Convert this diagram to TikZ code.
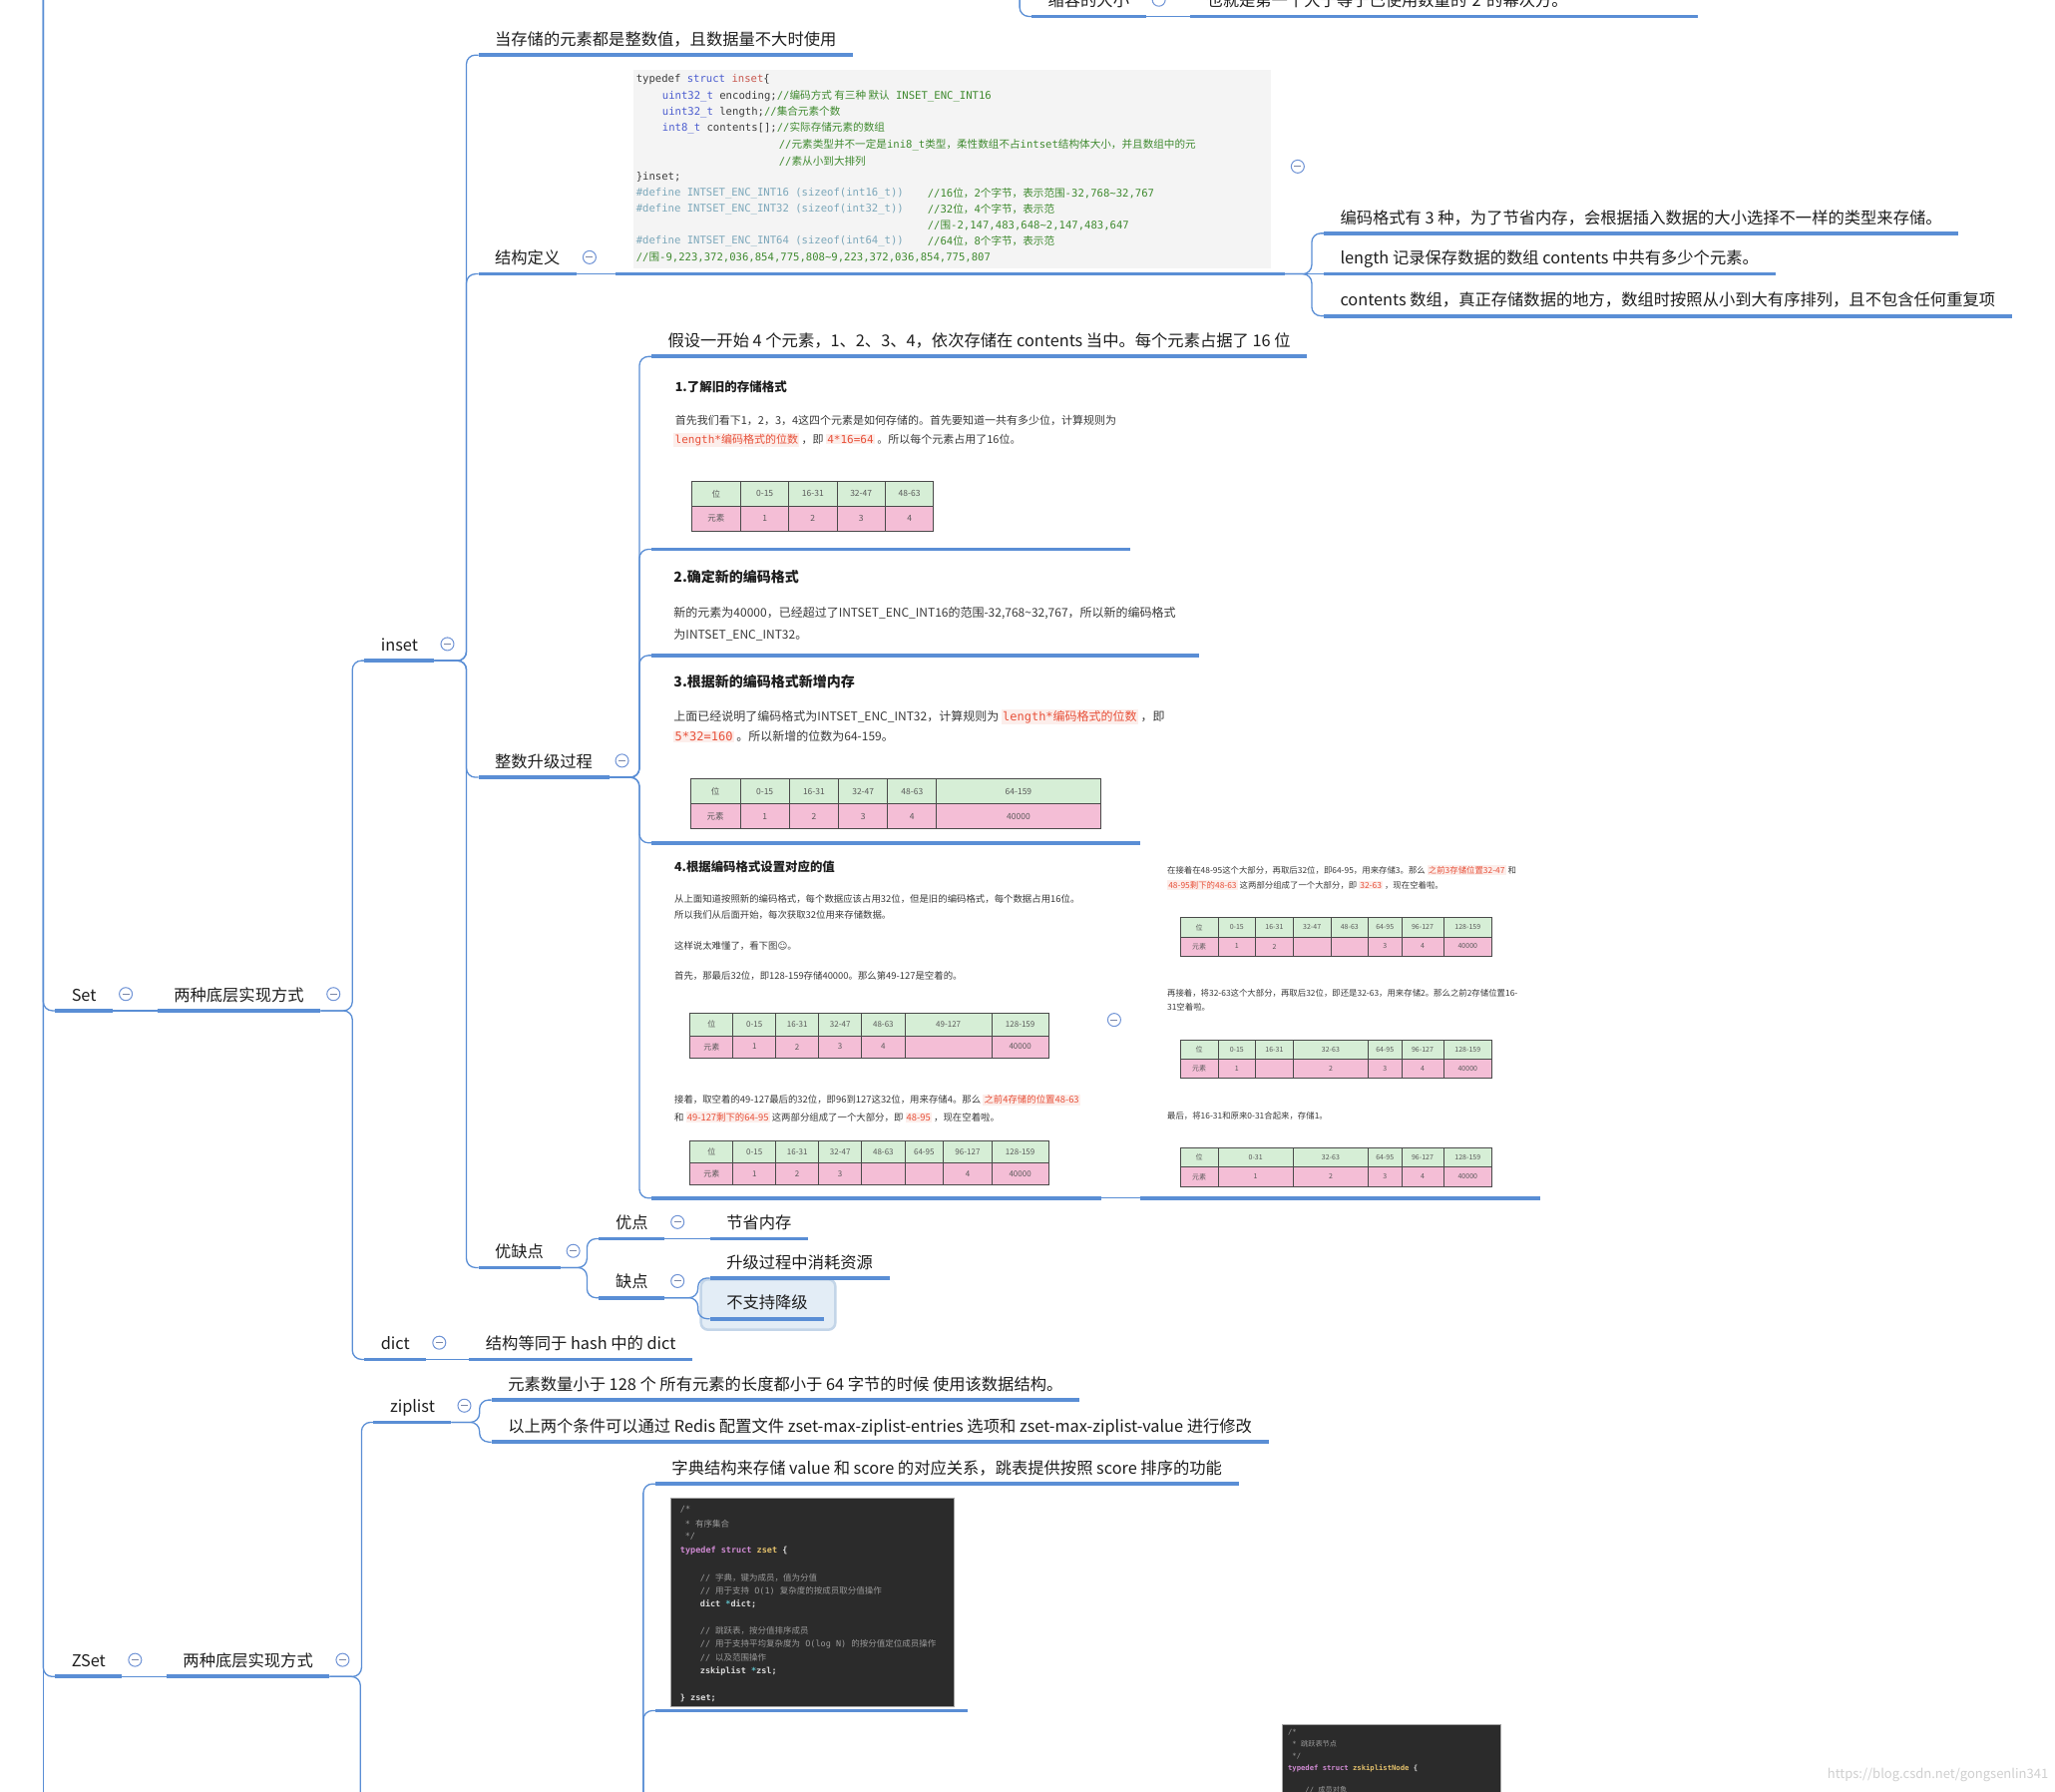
\documentclass[tikz,border=0pt]{standalone}
\usepackage{fontspec}
\setmainfont{Noto Sans CJK SC}
\setmonofont{DejaVu Sans Mono}
\newfontfamily\symfont{DejaVu Sans}
\usetikzlibrary{positioning,backgrounds,fit}
\definecolor{xblue}{HTML}{5A8ED5}
\definecolor{foldblue}{HTML}{6F93D6}
\definecolor{foldgray}{HTML}{7A86A6}
\definecolor{ink}{HTML}{1E1E1E}
\definecolor{txtgray}{HTML}{3A3A3A}
\definecolor{codebg}{HTML}{F4F4F4}
\definecolor{codeink}{HTML}{3C3C3C}
\definecolor{kwblue}{HTML}{4A5CCF}
\definecolor{kwred}{HTML}{C8584F}
\definecolor{cmgreen}{HTML}{3F8A2F}
\definecolor{dfteal}{HTML}{7BA7BA}
\definecolor{redcode}{HTML}{E8513A}
\definecolor{redbg}{HTML}{FCEEEB}
\definecolor{bitgreen}{HTML}{D6EED6}
\definecolor{bitpink}{HTML}{F4BED6}
\definecolor{rulegray}{HTML}{4A4A4A}
\definecolor{celltxt}{HTML}{5A5A5A}
\definecolor{darkbg}{HTML}{2B2B2B}
\definecolor{darktxt}{HTML}{DADADA}
\definecolor{darkcm}{HTML}{9A9A9A}
\definecolor{darkkw}{HTML}{CF8AD2}
\definecolor{darkname}{HTML}{E3C06B}
\definecolor{darkstar}{HTML}{5FC0C8}
\definecolor{selfill}{HTML}{E3EDF6}
\definecolor{selline}{HTML}{C3D5E8}
\definecolor{wmgray}{HTML}{CFCFCF}

\newcommand{\zh}[1]{{\rmfamily#1}}
\newcommand{\ckw}[1]{\textcolor{kwblue}{#1}}
\newcommand{\cnm}[1]{\textcolor{kwred}{#1}}
\newcommand{\ccm}[1]{\textcolor{cmgreen}{#1}}
\newcommand{\cdf}[1]{\textcolor{dfteal}{#1}}
\newcommand{\rc}[1]{{\setlength{\fboxsep}{1.2pt}\colorbox{redbg}{\textcolor{redcode}{#1}}}}
% 位表：字号、名字、上/中/下 y、各列
\newcommand{\bittab}[6]{%
  \foreach \ca/\cb/\ctop/\cbot [count=\k] in {#6}{
    \fill[bitgreen] (\ca,#3) rectangle (\cb,#4);
    \fill[bitpink] (\ca,#4) rectangle (\cb,#5);
    \node[bitcell, font=\fontsize{#1}{#1}\selectfont] (#2g\k) at ({(\ca+\cb)/2},{(#3+#4)/2}) {\ctop};
    \node[bitcell, font=\fontsize{#1}{#1}\selectfont] (#2p\k) at ({(\ca+\cb)/2},{(#4+#5)/2}) {\cbot};
    \draw[cellrule] (\ca,#3) rectangle (\cb,#5) (\ca,#4) -- (\cb,#4);
  }}

\begin{document}
\begin{tikzpicture}[x=1.3138pt, y=-1.3138pt,
    topic/.style={anchor=south west, inner xsep=16.4pt, inner ysep=6pt, text height=12.5pt, text depth=3.5pt,
      text=ink, font=\fontsize{16.3}{19}\selectfont,
      append after command={(\tikzlastnode.south west) edge[uline] (\tikzlastnode.south east)}}, % 下划线主题
    uline/.style={draw=xblue, line width=3.8pt},
    conn/.style={draw=xblue, line width=1.3pt, rounded corners=9pt},
    fold/.style={circle, draw=foldblue, line width=1pt, fill=white, minimum size=13pt, inner sep=0pt,
      path picture={\draw[foldgray, line width=1pt] ([xshift=-3.5pt]path picture bounding box.center) -- ([xshift=3.5pt]path picture bounding box.center);}},
    shot/.style 2 args={topic, minimum width=#1, minimum height=#2}, % 图片节点
    selbox/.style={draw=selline, line width=2.5pt, fill=selfill, rounded corners=7pt, inner xsep=10pt, inner ysep=11pt},
    stephead/.style={anchor=west, inner sep=0pt, text=ink, font=\bfseries\fontsize{12.5}{14}\selectfont},
    steptext/.style={anchor=west, inner sep=0pt, text=txtgray, font=\fontsize{11}{13}\selectfont},
    codeline/.style={anchor=west, inner sep=0pt, text=codeink, font=\ttfamily\fontsize{10.6}{12}\selectfont},
    darkline/.style={anchor=west, inner sep=0pt, text=darktxt, font=\ttfamily\fontsize{8.5}{10}\selectfont},
    bitcell/.style={inner sep=0pt, text=celltxt},
    cellrule/.style={draw=rulegray, line width=0.9pt}
  ]
\useasboundingbox (0,0) rectangle (1568,1367);
\clip (0,0) rectangle (1568,1367);

% 顶部（截断）
\coordinate (shrinkup) at (778,-40);
\node[topic] (shrink) at (787,12.5) {缩容的大小};
\node[topic, text width=476pt, align=left] (shrinkdesc) at (908,12.5) {也就是第一个大于等于已使用数量的 2 的幂次方。};

% Set
\coordinate (roottop) at (33,-60);
\coordinate (rootend) at (33,1430);
\node[topic] (set) at (42,771) {Set};
\node[topic] (setimpl) at (120,771) {两种底层实现方式};
\node[topic] (inset) at (278,504) {inset};
\node[topic] (dict) at (278,1037) {dict};
\node[topic] (insetuse) at (365,42) {当存储的元素都是整数值，且数据量不大时使用};
\node[topic] (insetdef) at (365,209) {结构定义};
\node[shot={670pt}{210pt}] (insetcode) at (470,209) {};
\node[topic] (enc3) at (1010,178) {编码格式有 3 种，为了节省内存，会根据插入数据的大小选择不一样的类型来存储。};
\node[topic] (lenrec) at (1010,209) {length 记录保存数据的数组 contents 中共有多少个元素。};
\node[topic] (contarr) at (1010,241) {contents 数组，真正存储数据的地方，数组时按照从小到大有序排列，且不包含任何重复项};
\node[topic] (upgrade) at (365,593) {整数升级过程};
\node[topic] (assume) at (497,272) {假设一开始 4 个元素，1、2、3、4，依次存储在 contents 当中。每个元素占据了 16 位};
\node[shot={479.5pt}{184pt}] (step1) at (497,419) {};
\node[shot={549pt}{98.5pt}] (step2) at (497,500) {};
\node[shot={490pt}{177pt}] (step3) at (497,643) {};
\node[shot={450.6pt}{352pt}] (step4) at (497,914) {};
\node[shot={400.7pt}{352pt}] (step4b) at (870,914) {};
\node[topic] (proscons) at (365,967) {优缺点};
\node[topic] (pro) at (457,945) {优点};
\node[topic] (saving) at (541.7,945) {节省内存};
\node[topic] (con) at (457,990) {缺点};
\node[topic] (costly) at (541.7,975) {升级过程中消耗资源};
\node[topic] (nodown) at (541.7,1006) {不支持降级};
\node[topic] (dictsame) at (358,1037) {结构等同于 hash 中的 dict};

% ZSet
\node[topic] (zset) at (42,1279) {ZSet};
\node[topic] (zsetimpl) at (127,1279) {两种底层实现方式};
\node[topic] (ziplist) at (285,1085) {ziplist};
\node[topic] (zipcond) at (375,1068) {元素数量小于 128 个 所有元素的长度都小于 64 字节的时候 使用该数据结构。};
\node[topic] (zipconf) at (375,1100) {以上两个条件可以通过 Redis 配置文件 zset-max-ziplist-entries 选项和 zset-max-ziplist-value 进行修改};
\coordinate (skipstub) at (275,1430);
\coordinate (skipend) at (470,1450);
\node[topic] (dictskip) at (500,1132) {字典结构来存储 value 和 score 的对应关系，跳表提供按照 score 排序的功能};
\node[shot={312.7pt}{223pt}] (zsetcode) at (500,1305) {};

\begin{scope}[on background layer]
  \fill[white] (0,0) rectangle (1568,1367);
  \node[selbox, fit=(nodown), xshift=1pt] (nodownsel) {};
\end{scope}

% 连线
\draw[conn] (shrinkup) |- (shrink.south west);
\draw[conn] (roottop) |- (set.south west);
\draw[conn] (roottop) |- (zset.south west);
\draw[conn] (roottop) -- (rootend);
\draw[conn] (zsetimpl.south east) -| (skipstub);
\foreach \cnode in {dictskip, zsetcode}
  \draw[conn] (skipend) -| ([xshift=-12pt]\cnode.south west) -- (\cnode.south west);
\foreach \pnode/\cnode in {setimpl/inset, setimpl/dict, inset/insetuse, inset/insetdef, inset/upgrade, inset/proscons,
    insetcode/enc3, insetcode/contarr, upgrade/assume, upgrade/step1, upgrade/step2, upgrade/step3, upgrade/step4,
    proscons/pro, proscons/con, con/costly, con/nodown, zsetimpl/ziplist, ziplist/zipcond, ziplist/zipconf}
  \draw[conn] (\pnode.south east) -| ([xshift=-12pt]\cnode.south west) -- (\cnode.south west);
\foreach \pnode/\cnode in {set/setimpl, zset/zsetimpl, shrink/shrinkdesc, insetdef/insetcode, insetcode/lenrec,
    step4/step4b, pro/saving, dict/dictsame}
  \draw[conn] (\pnode.south east) -- (\cnode.south west);

% 折叠按钮
\foreach \n in {shrink, set, setimpl, inset, insetdef, insetcode, upgrade, step4, proscons, pro, con, dict, zset, zsetimpl, ziplist}
  \node[fold] (fold-\n) at ([shift={(13pt,2.5pt)}]\n.east) {};

% intset 结构代码
\fill[codebg] (483,53) rectangle (970,205);
\node[codeline] (cl1) at (485.3,60.9) {typedef \ckw{struct} \cnm{inset}\{};
\node[codeline] (cl2) at (505.2,73.6) {\ckw{uint32\_t} encoding;\ccm{//\zh{编码方式 有三种 默认} INSET\_ENC\_INT16}};
\node[codeline] (cl3) at (505.2,85.8) {\ckw{uint32\_t} length;\ccm{//\zh{集合元素个数}}};
\node[codeline] (cl4) at (505.2,97.7) {\ckw{int8\_t} contents[];\ccm{//\zh{实际存储元素的数组}}};
\node[codeline] (cl5) at (594.2,110.4) {\ccm{//\zh{元素类型并不一定是}ini8\_t\zh{类型，柔性数组不占}intset\zh{结构体大小，并且数组中的元}}};
\node[codeline] (cl6) at (594.2,123) {\ccm{//\zh{素从小到大排列}}};
\node[codeline] (cl7) at (485.3,135.3) {\}inset;};
\node[codeline] (cl8) at (485.3,147.1) {\cdf{\#define INTSET\_ENC\_INT16 (sizeof(int16\_t))}};
\node[codeline] (cm8) at (707.6,147.1) {\ccm{//16\zh{位，}2\zh{个字节，表示范围}-32,768\textasciitilde32,767}};
\node[codeline] (cl9) at (485.3,159.8) {\cdf{\#define INTSET\_ENC\_INT32 (sizeof(int32\_t))}};
\node[codeline] (cm9) at (707.6,159.8) {\ccm{//32\zh{位，}4\zh{个字节，表示范}}};
\node[codeline] (cm10) at (707.6,172) {\ccm{//\zh{围}-2,147,483,648\textasciitilde2,147,483,647}};
\node[codeline] (cl11) at (485.3,184) {\cdf{\#define INTSET\_ENC\_INT64 (sizeof(int64\_t))}};
\node[codeline] (cm11) at (707.6,184) {\ccm{//64\zh{位，}8\zh{个字节，表示范}}};
\node[codeline] (cl12) at (485.3,196.1) {\ccm{//\zh{围}-9,223,372,036,854,775,808\textasciitilde9,223,372,036,854,775,807}};

% 1. 旧格式
\node[stephead] (s1h) at (515,295.3) {1.了解旧的存储格式};
\node[steptext] (s1a) at (515,320.7) {首先我们看下1，2，3，4这四个元素是如何存储的。首先要知道一共有多少位，计算规则为};
\node[steptext] (s1b) at (514,335.4) {\rc{\texttt{length*}编码格式的位数} ，即 \rc{\texttt{4*16=64}} 。所以每个元素占用了16位。};
\bittab{8.5}{tA}{367.1}{386.1}{404.9}{527.7/565.3/位/元素, 565.3/601.8/0-15/1, 601.8/638.6/16-31/2, 638.6/675.4/32-47/3, 675.4/712.4/48-63/4}

% 2. 新格式
\node[stephead, font=\bfseries\fontsize{14}{16}\selectfont] (s2h) at (514,440) {2.确定新的编码格式};
\node[steptext, font=\fontsize{12}{14}\selectfont] (s2a) at (514,468) {新的元素为40000，已经超过了INTSET\_ENC\_INT16的范围-32,768\textasciitilde32,767，所以新的编码格式};
\node[steptext, font=\fontsize{12}{14}\selectfont] (s2b) at (514,484) {为INTSET\_ENC\_INT32。};

% 3. 新增内存
\node[stephead, font=\bfseries\fontsize{14}{16}\selectfont] (s3h) at (514,520) {3.根据新的编码格式新增内存};
\node[steptext, font=\fontsize{12}{14}\selectfont] (s3a) at (514,547) {上面已经说明了编码格式为INTSET\_ENC\_INT32，计算规则为 \rc{\texttt{length*}编码格式的位数} ，即};
\node[steptext, font=\fontsize{12}{14}\selectfont] (s3b) at (514,562) {\rc{\texttt{5*32=160}} 。所以新增的位数为64-159。};
\bittab{8.5}{tB}{594}{613.3}{632}{527/564.8/位/元素, 564.8/602.3/0-15/1, 602.3/639.8/16-31/2, 639.8/677.3/32-47/3, 677.3/714.6/48-63/4, 714.6/839.6/64-159/40000}

% 4. 设置值（左）
\node[stephead, font=\bfseries\fontsize{12.4}{14}\selectfont] (s4h) at (514.5,661.5) {4.根据编码格式设置对应的值};
\begin{scope}[steptext/.append style={font=\fontsize{9.4}{11}\selectfont}]
\node[steptext] (s4a) at (514.5,685.5) {从上面知道按照新的编码格式，每个数据应该占用32位，但是旧的编码格式，每个数据占用16位。};
\node[steptext] (s4b) at (514.5,697.7) {所以我们从后面开始，每次获取32位用来存储数据。};
\node[steptext] (s4c) at (514.5,721.6) {这样说太难懂了，看下图{\symfont ☺}。};
\node[steptext] (s4d) at (514.5,744.4) {首先，那最后32位，即128-159存储40000。那么第49-127是空着的。};
\node[steptext] (s4e) at (514.5,839) {接着，取空着的49-127最后的32位，即96到127这32位，用来存储4。那么 \rc{之前4存储的位置48-63}};
\node[steptext] (s4f) at (514.5,852.2) {和 \rc{49-127剩下的64-95} 这两部分组成了一个大部分，即 \rc{48-95} ，现在空着啦。};
\end{scope}
\bittab{8}{tC}{773}{790.3}{806.8}{526.5/559.4/位/元素, 559.4/591.9/0-15/1, 591.9/624.7/16-31/2, 624.7/657.4/32-47/3, 657.4/690.4/48-63/4, 690.4/756.8/49-127/{}, 756.8/800/128-159/40000}
\bittab{8}{tD}{870.2}{887.2}{903.7}{526.5/559.4/位/元素, 559.4/591.9/0-15/1, 591.9/624.7/16-31/2, 624.7/657.4/32-47/3, 657.4/690.4/48-63/{}, 690.4/719.8/64-95/{}, 719.8/756.8/96-127/4, 756.8/800/128-159/40000}

% 4. 设置值（右）
\begin{scope}[steptext/.append style={font=\fontsize{8.4}{10}\selectfont}]
\node[steptext] (s5a) at (890.5,664) {在接着在48-95这个大部分，再取后32位，即64-95，用来存储3。那么 \rc{之前3存储位置32-47} 和};
\node[steptext] (s5b) at (890.5,675) {\rc{48-95剩下的48-63} 这两部分组成了一个大部分，即 \rc{32-63} ，现在空着啦。};
\node[steptext] (s5c) at (890.5,757.4) {再接着，将32-63这个大部分，再取后32位，即还是32-63，用来存储2。那么之前2存储位置16-};
\node[steptext] (s5d) at (890.5,768.3) {31空着啦。};
\node[steptext] (s5e) at (890.5,851) {最后，将16-31和原来0-31合起来，存储1。};
\end{scope}
\bittab{7}{tE}{700}{714.7}{729.2}{900.7/929.4/位/元素, 929.4/958/0-15/1, 958/986.7/16-31/2, 986.7/1015.4/32-47/{}, 1015.4/1044/48-63/{}, 1044/1069.4/64-95/3, 1069.4/1101.4/96-127/4, 1101.4/1138.4/128-159/40000}
\bittab{7}{tF}{793.4}{808.1}{822.6}{900.7/929.4/位/元素, 929.4/958/0-15/1, 958/986.7/16-31/{}, 986.7/1044/32-63/2, 1044/1069.4/64-95/3, 1069.4/1101.4/96-127/4, 1101.4/1138.4/128-159/40000}
\bittab{7}{tG}{875.6}{890.5}{905}{900.7/929.4/位/元素, 929.4/986.7/0-31/1, 986.7/1044/32-63/2, 1044/1069.4/64-95/3, 1069.4/1101.4/96-127/4, 1101.4/1138.4/128-159/40000}

% zset 结构代码
\fill[darkbg, draw=gray!70, line width=0.6pt] (512,1142.5) rectangle (728,1301.6);
\node[darkline, text=darkcm] (zl1) at (518.9,1151.6) {/*};
\node[darkline, text=darkcm] (zl2) at (522.6,1162.5) {* \zh{有序集合}};
\node[darkline, text=darkcm] (zl3) at (522.6,1171.9) {*/};
\node[darkline] (zl4) at (518.9,1183.3) {\bfseries\textcolor{darkkw}{typedef struct} \textcolor{darkname}{zset} \{};
\node[darkline, text=darkcm] (zl5) at (534.1,1203.6) {// \zh{字典，键为成员，值为分值}};
\node[darkline, text=darkcm] (zl6) at (534.1,1213.8) {// \zh{用于支持} O(1) \zh{复杂度的按成员取分值操作}};
\node[darkline] (zl7) at (534.1,1223.9) {\bfseries dict \textcolor{darkstar}{*}dict;};
\node[darkline, text=darkcm] (zl8) at (534.1,1244.2) {// \zh{跳跃表，按分值排序成员}};
\node[darkline, text=darkcm] (zl9) at (534.1,1253.9) {// \zh{用于支持平均复杂度为} O(log N) \zh{的按分值定位成员操作}};
\node[darkline, text=darkcm] (zl10) at (534.1,1264.5) {// \zh{以及范围操作}};
\node[darkline] (zl11) at (534.1,1274.7) {\bfseries zskiplist \textcolor{darkstar}{*}zsl;};
\node[darkline] (zl12) at (518.9,1295.5) {\bfseries\} zset;};

% zskiplistNode 代码（截断）
\fill[darkbg, draw=gray!70, line width=0.6pt] (978,1315.5) rectangle (1145,1420);
\begin{scope}[darkline/.append style={font=\ttfamily\fontsize{7.2}{9}\selectfont}]
\node[darkline, text=darkcm] (nl1) at (982.6,1321.3) {/*};
\node[darkline, text=darkcm] (nl2) at (985.9,1330.7) {* \zh{跳跃表节点}};
\node[darkline, text=darkcm] (nl3) at (985.9,1339.8) {*/};
\node[darkline] (nl4) at (982.6,1349.3) {\bfseries\textcolor{darkkw}{typedef struct} \textcolor{darkname}{zskiplistNode} \{};
\node[darkline, text=darkcm] (nl5) at (995.8,1365.7) {// \zh{成员对象}};
\end{scope}

\node[anchor=east, inner sep=0pt, text=wmgray, font=\fontsize{13}{15}\selectfont] (wm) at (1563,1354) {https://blog.csdn.net/gongsenlin341};
\end{tikzpicture}
\end{document}
